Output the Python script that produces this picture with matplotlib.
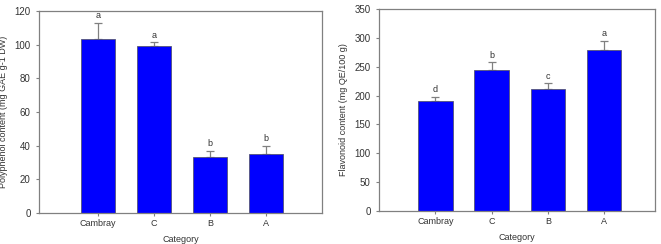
import matplotlib
matplotlib.use("Agg")
import matplotlib.pyplot as plt
import numpy as np

plt.rcParams["font.family"] = ["Liberation Sans", "DejaVu Sans"]

CATS = ["Cambray", "C", "B", "A"]

POLY = [103.5, 99, 33, 35]
POLY_ERR = [9.5, 2.5, 4, 5]
POLY_LET = ["a", "a", "b", "b"]

FLAV = [190, 244, 212, 279]
FLAV_ERR = [8, 14, 10, 16]
FLAV_LET = ["d", "b", "c", "a"]

BLUE = "#0000FF"
GRAY = "#808080"
TXT = "#333333"

fig = plt.figure(figsize=(6.61, 2.44), dpi=100)
ax1 = fig.add_axes([39 / 661, 1 - 213 / 244, 283 / 661, 202 / 244])
ax2 = fig.add_axes([379 / 661, 1 - 211 / 244, 276 / 661, 202 / 244])


def panel(ax, vals, errs, lets, ylim, yticks, ylabel, xlim, off):
    x = np.arange(len(CATS))
    ax.bar(x, vals, width=0.61, color=BLUE, edgecolor="#555577", lw=0.6, zorder=2)
    ax.errorbar(x, vals, yerr=[np.zeros(len(errs)), errs], fmt="none",
                ecolor=GRAY, elinewidth=0.9, capsize=3, capthick=0.9, zorder=1)
    for xi, v, e, l in zip(x, vals, errs, lets):
        ax.text(xi, v + e + off, l, ha="center", va="bottom", fontsize=6.5, color=TXT)
    ax.set_xlim(*xlim)
    ax.set_ylim(*ylim)
    ax.set_yticks(yticks)
    ax.set_xticks(x)
    ax.set_xticklabels(CATS)
    ax.tick_params(axis="both", labelsize=7, colors=GRAY, labelcolor=TXT,
                   length=2.5, width=0.8)
    ax.tick_params(axis="x", pad=2, labelsize=6.5)
    for s in ax.spines.values():
        s.set_color(GRAY)
        s.set_linewidth(0.9)
    ax.set_ylabel(ylabel, fontsize=6.5, color=TXT, labelpad=5)
    ax.set_xlabel("Category", fontsize=6.5, color=TXT, labelpad=5)


panel(ax1, POLY, POLY_ERR, POLY_LET, (0, 120), range(0, 121, 20),
      "Polyphenol content (mg GAE g-1 DW)", (-1.05, 4.0), 1.5)
panel(ax2, FLAV, FLAV_ERR, FLAV_LET, (0, 350), range(0, 351, 50),
      "Flavonoid content (mg QE/100 g)", (-1.0, 3.9), 4)

fig.savefig("out.png", dpi=100)
